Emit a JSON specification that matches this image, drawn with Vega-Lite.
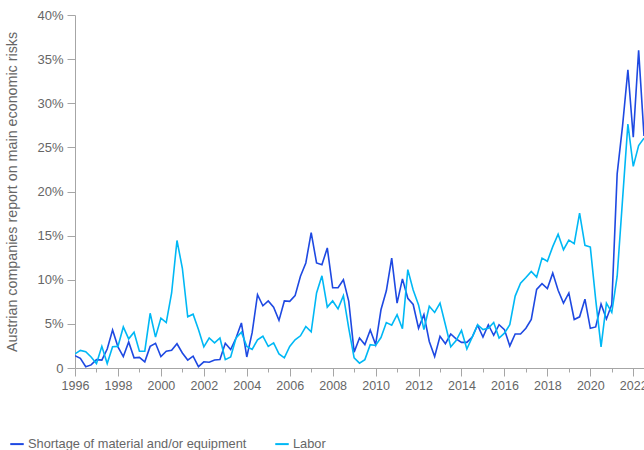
{
  "$schema": "https://vega.github.io/schema/vega-lite/v6.json",
  "width": 569,
  "height": 353,
  "autosize": {"type": "none"},
  "padding": {"left": 75, "top": 15, "right": 0, "bottom": 82},
  "background": "white",
  "config": {"view": {"stroke": null}, "font": "Liberation Sans"},
  "data": {"values": [
    {"t": 1996.00, "Shortage of material and/or equipment": 1.4, "Labor": 1.6},
    {"t": 1996.25, "Shortage of material and/or equipment": 1.1, "Labor": 2.0},
    {"t": 1996.50, "Shortage of material and/or equipment": 0.15, "Labor": 1.85},
    {"t": 1996.75, "Shortage of material and/or equipment": 0.35, "Labor": 1.25},
    {"t": 1997.00, "Shortage of material and/or equipment": 0.95, "Labor": 0.5},
    {"t": 1997.25, "Shortage of material and/or equipment": 0.9, "Labor": 2.45},
    {"t": 1997.50, "Shortage of material and/or equipment": 2.15, "Labor": 0.5},
    {"t": 1997.75, "Shortage of material and/or equipment": 4.3, "Labor": 2.4},
    {"t": 1998.00, "Shortage of material and/or equipment": 2.4, "Labor": 2.45},
    {"t": 1998.25, "Shortage of material and/or equipment": 1.3, "Labor": 4.65},
    {"t": 1998.50, "Shortage of material and/or equipment": 2.95, "Labor": 3.3},
    {"t": 1998.75, "Shortage of material and/or equipment": 1.15, "Labor": 4.05},
    {"t": 1999.00, "Shortage of material and/or equipment": 1.2, "Labor": 1.9},
    {"t": 1999.25, "Shortage of material and/or equipment": 0.7, "Labor": 1.9},
    {"t": 1999.50, "Shortage of material and/or equipment": 2.45, "Labor": 6.2},
    {"t": 1999.75, "Shortage of material and/or equipment": 2.8, "Labor": 3.5},
    {"t": 2000.00, "Shortage of material and/or equipment": 1.3, "Labor": 5.65},
    {"t": 2000.25, "Shortage of material and/or equipment": 1.9, "Labor": 5.15},
    {"t": 2000.50, "Shortage of material and/or equipment": 2.0, "Labor": 8.5},
    {"t": 2000.75, "Shortage of material and/or equipment": 2.75, "Labor": 14.45},
    {"t": 2001.00, "Shortage of material and/or equipment": 1.7, "Labor": 11.3},
    {"t": 2001.25, "Shortage of material and/or equipment": 0.9, "Labor": 5.8},
    {"t": 2001.50, "Shortage of material and/or equipment": 1.35, "Labor": 6.1},
    {"t": 2001.75, "Shortage of material and/or equipment": 0.15, "Labor": 4.35},
    {"t": 2002.00, "Shortage of material and/or equipment": 0.7, "Labor": 2.4},
    {"t": 2002.25, "Shortage of material and/or equipment": 0.65, "Labor": 3.4},
    {"t": 2002.50, "Shortage of material and/or equipment": 0.9, "Labor": 2.85},
    {"t": 2002.75, "Shortage of material and/or equipment": 0.95, "Labor": 3.4},
    {"t": 2003.00, "Shortage of material and/or equipment": 2.8, "Labor": 0.95},
    {"t": 2003.25, "Shortage of material and/or equipment": 2.1, "Labor": 1.25},
    {"t": 2003.50, "Shortage of material and/or equipment": 3.4, "Labor": 3.4},
    {"t": 2003.75, "Shortage of material and/or equipment": 5.1, "Labor": 4.05},
    {"t": 2004.00, "Shortage of material and/or equipment": 1.25, "Labor": 2.45},
    {"t": 2004.25, "Shortage of material and/or equipment": 4.0, "Labor": 2.1},
    {"t": 2004.50, "Shortage of material and/or equipment": 8.3, "Labor": 3.2},
    {"t": 2004.75, "Shortage of material and/or equipment": 7.05, "Labor": 3.6},
    {"t": 2005.00, "Shortage of material and/or equipment": 7.6, "Labor": 2.45},
    {"t": 2005.25, "Shortage of material and/or equipment": 6.9, "Labor": 2.85},
    {"t": 2005.50, "Shortage of material and/or equipment": 5.4, "Labor": 1.6},
    {"t": 2005.75, "Shortage of material and/or equipment": 7.6, "Labor": 1.15},
    {"t": 2006.00, "Shortage of material and/or equipment": 7.55, "Labor": 2.45},
    {"t": 2006.25, "Shortage of material and/or equipment": 8.2, "Labor": 3.2},
    {"t": 2006.50, "Shortage of material and/or equipment": 10.4, "Labor": 3.65},
    {"t": 2006.75, "Shortage of material and/or equipment": 11.9, "Labor": 4.7},
    {"t": 2007.00, "Shortage of material and/or equipment": 15.35, "Labor": 4.1},
    {"t": 2007.25, "Shortage of material and/or equipment": 11.9, "Labor": 8.5},
    {"t": 2007.50, "Shortage of material and/or equipment": 11.7, "Labor": 10.45},
    {"t": 2007.75, "Shortage of material and/or equipment": 13.6, "Labor": 6.9},
    {"t": 2008.00, "Shortage of material and/or equipment": 9.1, "Labor": 7.6},
    {"t": 2008.25, "Shortage of material and/or equipment": 9.1, "Labor": 6.7},
    {"t": 2008.50, "Shortage of material and/or equipment": 10.0, "Labor": 8.2},
    {"t": 2008.75, "Shortage of material and/or equipment": 7.55, "Labor": 4.5},
    {"t": 2009.00, "Shortage of material and/or equipment": 1.8, "Labor": 1.15},
    {"t": 2009.25, "Shortage of material and/or equipment": 3.4, "Labor": 0.55},
    {"t": 2009.50, "Shortage of material and/or equipment": 2.65, "Labor": 0.95},
    {"t": 2009.75, "Shortage of material and/or equipment": 4.3, "Labor": 2.65},
    {"t": 2010.00, "Shortage of material and/or equipment": 2.65, "Labor": 2.55},
    {"t": 2010.25, "Shortage of material and/or equipment": 6.6, "Labor": 3.45},
    {"t": 2010.50, "Shortage of material and/or equipment": 8.75, "Labor": 5.15},
    {"t": 2010.75, "Shortage of material and/or equipment": 12.45, "Labor": 4.85},
    {"t": 2011.00, "Shortage of material and/or equipment": 7.35, "Labor": 6.05},
    {"t": 2011.25, "Shortage of material and/or equipment": 10.1, "Labor": 4.45},
    {"t": 2011.50, "Shortage of material and/or equipment": 7.9, "Labor": 11.15},
    {"t": 2011.75, "Shortage of material and/or equipment": 7.2, "Labor": 8.85},
    {"t": 2012.00, "Shortage of material and/or equipment": 4.5, "Labor": 7.15},
    {"t": 2012.25, "Shortage of material and/or equipment": 6.05, "Labor": 4.35},
    {"t": 2012.50, "Shortage of material and/or equipment": 3.0, "Labor": 7.0},
    {"t": 2012.75, "Shortage of material and/or equipment": 1.3, "Labor": 6.3},
    {"t": 2013.00, "Shortage of material and/or equipment": 3.6, "Labor": 7.35},
    {"t": 2013.25, "Shortage of material and/or equipment": 2.75, "Labor": 4.9},
    {"t": 2013.50, "Shortage of material and/or equipment": 3.85, "Labor": 2.4},
    {"t": 2013.75, "Shortage of material and/or equipment": 3.3, "Labor": 3.1},
    {"t": 2014.00, "Shortage of material and/or equipment": 2.9, "Labor": 4.25},
    {"t": 2014.25, "Shortage of material and/or equipment": 2.9, "Labor": 2.15},
    {"t": 2014.50, "Shortage of material and/or equipment": 3.5, "Labor": 3.5},
    {"t": 2014.75, "Shortage of material and/or equipment": 4.85, "Labor": 4.9},
    {"t": 2015.00, "Shortage of material and/or equipment": 3.5, "Labor": 4.35},
    {"t": 2015.25, "Shortage of material and/or equipment": 4.9, "Labor": 4.5},
    {"t": 2015.50, "Shortage of material and/or equipment": 3.7, "Labor": 5.15},
    {"t": 2015.75, "Shortage of material and/or equipment": 4.9, "Labor": 3.4},
    {"t": 2016.00, "Shortage of material and/or equipment": 4.35, "Labor": 3.95},
    {"t": 2016.25, "Shortage of material and/or equipment": 2.5, "Labor": 4.9},
    {"t": 2016.50, "Shortage of material and/or equipment": 3.85, "Labor": 8.15},
    {"t": 2016.75, "Shortage of material and/or equipment": 3.85, "Labor": 9.6},
    {"t": 2017.00, "Shortage of material and/or equipment": 4.5, "Labor": 10.25},
    {"t": 2017.25, "Shortage of material and/or equipment": 5.5, "Labor": 10.95},
    {"t": 2017.50, "Shortage of material and/or equipment": 8.9, "Labor": 10.3},
    {"t": 2017.75, "Shortage of material and/or equipment": 9.55, "Labor": 12.45},
    {"t": 2018.00, "Shortage of material and/or equipment": 9.0, "Labor": 12.1},
    {"t": 2018.25, "Shortage of material and/or equipment": 10.75, "Labor": 13.75},
    {"t": 2018.50, "Shortage of material and/or equipment": 8.8, "Labor": 15.15},
    {"t": 2018.75, "Shortage of material and/or equipment": 7.35, "Labor": 13.4},
    {"t": 2019.00, "Shortage of material and/or equipment": 8.5, "Labor": 14.5},
    {"t": 2019.25, "Shortage of material and/or equipment": 5.5, "Labor": 14.1},
    {"t": 2019.50, "Shortage of material and/or equipment": 5.8, "Labor": 17.55},
    {"t": 2019.75, "Shortage of material and/or equipment": 7.8, "Labor": 13.9},
    {"t": 2020.00, "Shortage of material and/or equipment": 4.5, "Labor": 13.7},
    {"t": 2020.25, "Shortage of material and/or equipment": 4.65, "Labor": 7.75},
    {"t": 2020.50, "Shortage of material and/or equipment": 7.25, "Labor": 2.4},
    {"t": 2020.75, "Shortage of material and/or equipment": 5.55, "Labor": 7.35},
    {"t": 2021.00, "Shortage of material and/or equipment": 7.2, "Labor": 6.3},
    {"t": 2021.25, "Shortage of material and/or equipment": 22.0, "Labor": 10.4},
    {"t": 2021.50, "Shortage of material and/or equipment": 27.4, "Labor": 19.05},
    {"t": 2021.75, "Shortage of material and/or equipment": 33.8, "Labor": 27.65},
    {"t": 2022.00, "Shortage of material and/or equipment": 26.15, "Labor": 22.85},
    {"t": 2022.25, "Shortage of material and/or equipment": 36.0, "Labor": 25.2},
    {"t": 2022.50, "Shortage of material and/or equipment": 26.3, "Labor": 26.05}
  ]},
  "transform": [
    {"fold": ["Shortage of material and/or equipment", "Labor"], "as": ["series", "value"]}
  ],
  "mark": {"type": "line", "strokeWidth": 1.6, "clip": true},
  "encoding": {
    "x": {
      "field": "t", "type": "quantitative",
      "scale": {"domain": [1996, 2022.5], "nice": false, "zero": false},
      "axis": {
        "title": null,
        "values": [1996,1997,1998,1999,2000,2001,2002,2003,2004,2005,2006,2007,2008,2009,2010,2011,2012,2013,2014,2015,2016,2017,2018,2019,2020,2021,2022],
        "labelExpr": "datum.value % 2 == 0 ? '' + datum.value : ''",
        "grid": false,
        "domainColor": "#a6a6a6",
        "tickColor": "#a6a6a6",
        "tickSize": {"condition": {"test": "datum.value % 2 == 0", "value": 8}, "value": 4},
        "labelFontSize": 12.5,
        "labelColor": "#666666",
        "labelPadding": 3,
        "labelOverlap": false,
        "labelFlush": false,
        "labelBound": false
      }
    },
    "y": {
      "field": "value", "type": "quantitative",
      "scale": {"domain": [0, 40], "nice": false},
      "axis": {
        "title": "Austrian  companies report on main economic risks",
        "values": [0,5,10,15,20,25,30,35,40],
        "labelExpr": "datum.value == 0 ? '0' : datum.value + '%'",
        "grid": false,
        "domainColor": "#a6a6a6",
        "tickColor": "#a6a6a6",
        "tickSize": 8,
        "labelPadding": 4,
        "labelFontSize": 13,
        "labelColor": "#666666",
        "titleFontSize": 14.3,
        "titleFontWeight": "normal",
        "titleColor": "#666666",
        "titleX": -59,
        "titleY": 176.5,
        "titleAngle": -90,
        "titleAlign": "center",
        "titleBaseline": "alphabetic",
        "titleLimit": 400
      }
    },
    "color": {
      "field": "series", "type": "nominal",
      "scale": {"domain": ["Shortage of material and/or equipment", "Labor"], "range": ["#1E49E2", "#00B8F5"]},
      "legend": {
        "title": null,
        "orient": "none",
        "legendX": -66,
        "legendY": 421,
        "direction": "horizontal",
        "symbolType": "stroke",
        "symbolSize": 182,
        "symbolStrokeWidth": 2,
        "labelFontSize": 12.8,
        "labelColor": "#666666",
        "labelOffset": 3,
        "labelLimit": 400,
        "columnPadding": 24
      }
    }
  }
}
